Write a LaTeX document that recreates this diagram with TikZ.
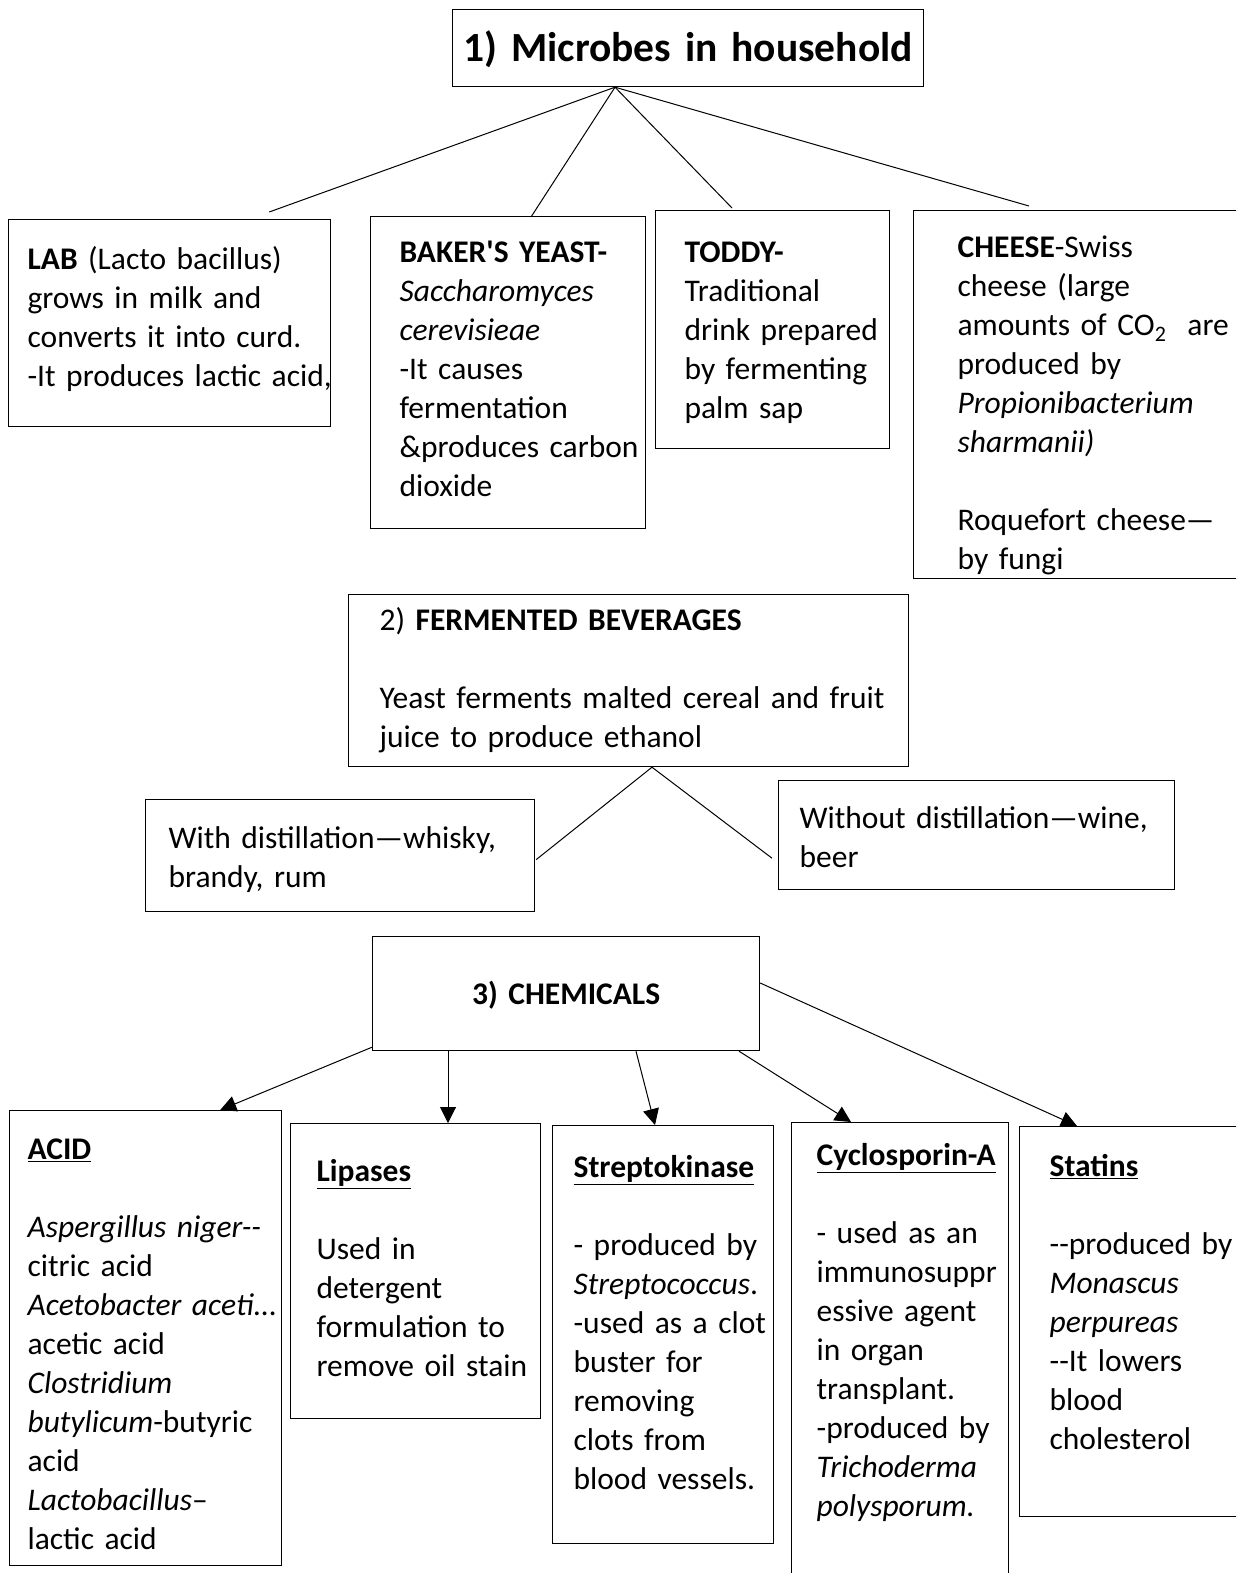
\documentclass[tikz,border=0pt]{standalone}
\usepackage{fontspec}
\usetikzlibrary{arrows.meta, calc}
\newfontfamily\carlito{Carlito}
\newcommand\bodyfont{\carlito\fontsize{31.5}{39}\selectfont}
\newcommand\pad[1]{\leftskip=#1pt\rightskip=-60pt plus 1fil\relax}

\begin{document}
\begin{tikzpicture}[x=1pt, y=-1pt,
    box/.style={draw, line width=1.2pt, anchor=north west, inner sep=0pt,
                align=left, font=\bodyfont},
    link/.style={line width=1pt},
    feed/.style={line width=1pt, -{Triangle[width=16pt,length=16pt]}}
  ]
    \clip (0,0) rectangle (1236,1573);

    % 1) household
    \node[box, align=center, text width=471, text height=52, text depth=25,
          font=\carlito\bfseries\fontsize{41.5}{48}\selectfont] (title) at (452,9)
      {1) Microbes in household};
    \node[box, text width=322, text height=50, text depth=157] (lab) at (8,219)
      {\pad{19}\textbf{LAB} (Lacto bacillus)\\ grows in milk and\\
       converts it into curd.\\ -It produces lactic acid,\par};
    \node[box, text width=275, text height=46, text depth=266] (baker) at (370,216)
      {\pad{29}\textbf{BAKER'S YEAST-}\\ \textit{Saccharomyces}\\ \textit{cerevisieae}\\
       -It causes\\ fermentation\\ \&produces carbon\\ dioxide\par};
    \node[box, text width=234, text height=52, text depth=186] (toddy) at (655,210)
      {\pad{29}\textbf{TODDY-}\\ Traditional\\ drink prepared\\ by fermenting\\ palm sap\par};
    \node[box, text width=340, text height=47, text depth=321] (cheese) at (913,210)
      {\pad{44}\textbf{CHEESE}-Swiss\\ cheese (large\\ amounts of CO\textsubscript{2}~ are\\
       produced by\\ \textit{Propionibacterium}\\ \textit{sharmanii)}\\[39pt]
       Roquefort cheese—\\ by fungi\par};

    \coordinate (hub) at ($(title.south west)+(163,0)$);
    \draw[link] (hub) -- ($(lab.north east)+(-62,-7)$);
    \draw[link] (hub) -- ($(baker.north west)+(161,1)$);
    \draw[link] (hub) -- ($(toddy.north west)+(77,-2)$);
    \draw[link] (hub) -- ($(cheese.north west)+(116,-4)$);

    % 2) beverages
    \node[box, text width=560, text height=36, text depth=136] (bev) at (348,594)
      {\pad{31}2) \textbf{FERMENTED BEVERAGES}\\[39pt]
       Yeast ferments malted cereal and fruit\\ juice to produce ethanol\par};
    \node[box, text width=389, text height=49, text depth=63] (withd) at (145,799)
      {\pad{23}With distillation—whisky,\\ brandy, rum\par};
    \node[box, text width=396, text height=48, text depth=61] (nodist) at (778,780)
      {\pad{21}Without distillation—wine,\\ beer\par};

    \coordinate (fork) at ($(bev.south west)+(304,0)$);
    \draw[link] (fork) -- ($(withd.east)+(1,4)$);
    \draw[link] (fork) -- ($(nodist.south west)+(-6,-32)$);

    % 3) chemicals
    \node[box, align=center, text width=387, text height=68, text depth=46,
          font=\bodyfont\bfseries] (chem) at (372,936) {3) CHEMICALS};
    \node[box, text width=272, text height=49, text depth=406] (acid) at (9,1110)
      {\pad{18}\underline{\textbf{ACID}}\\[39pt] \textit{Aspergillus niger--}\\ citric acid\\
       \textit{Acetobacter aceti...}\\ acetic acid\\ \textit{Clostridium}\\
       \textit{butylicum}-butyric\\ acid\\ \textit{Lactobacillus}–\\ lactic acid\par};
    \node[box, text width=250, text height=58, text depth=237] (lipase) at (290,1123)
      {\pad{26}\underline{\textbf{Lipases}}\\[39pt] Used in\\ detergent\\
       formulation to\\ remove oil stain\par};
    \node[box, text width=221, text height=52, text depth=366] (strepto) at (552,1125)
      {\pad{21}\underline{\textbf{Streptokinase}}\\[39pt] - produced by\\
       \textit{Streptococcus}.\\ -used as a clot\\ buster for\\ removing\\
       clots from\\ blood vessels.\par};
    \node[box, text width=217, text height=43, text depth=417] (cyclo) at (791,1122)
      {\pad{25}\underline{\textbf{Cyclosporin-A}}\\[39pt] - used as an\\ immunosuppr\\
       essive agent\\ in organ\\ transplant.\\ -produced by\\ \textit{Trichoderma}\\
       \textit{polysporum.}\par};
    \node[box, text width=240, text height=50, text depth=340] (statins) at (1019,1126)
      {\pad{30}\underline{\textbf{Statins}}\\[39pt] --produced by\\ \textit{Monascus}\\
       \textit{perpureas}\\ --It lowers\\ blood\\ cholesterol\par};

    \draw[feed] ($(chem.south west)+(0,-4)$) -- ($(acid.north east)+(-62,0)$);
    \draw[feed] ($(chem.south west)+(76,0)$) -- ($(lipase.north west)+(158,0)$);
    \draw[feed] ($(chem.south west)+(264,0)$) -- ($(strepto.north west)+(103,0)$);
    \draw[feed] ($(chem.south west)+(367,0)$) -- ($(cyclo.north west)+(60,0)$);
    \draw[feed] ($(chem.north east)+(0,47)$) -- ($(statins.north west)+(58,0)$);
\end{tikzpicture}
\end{document}
